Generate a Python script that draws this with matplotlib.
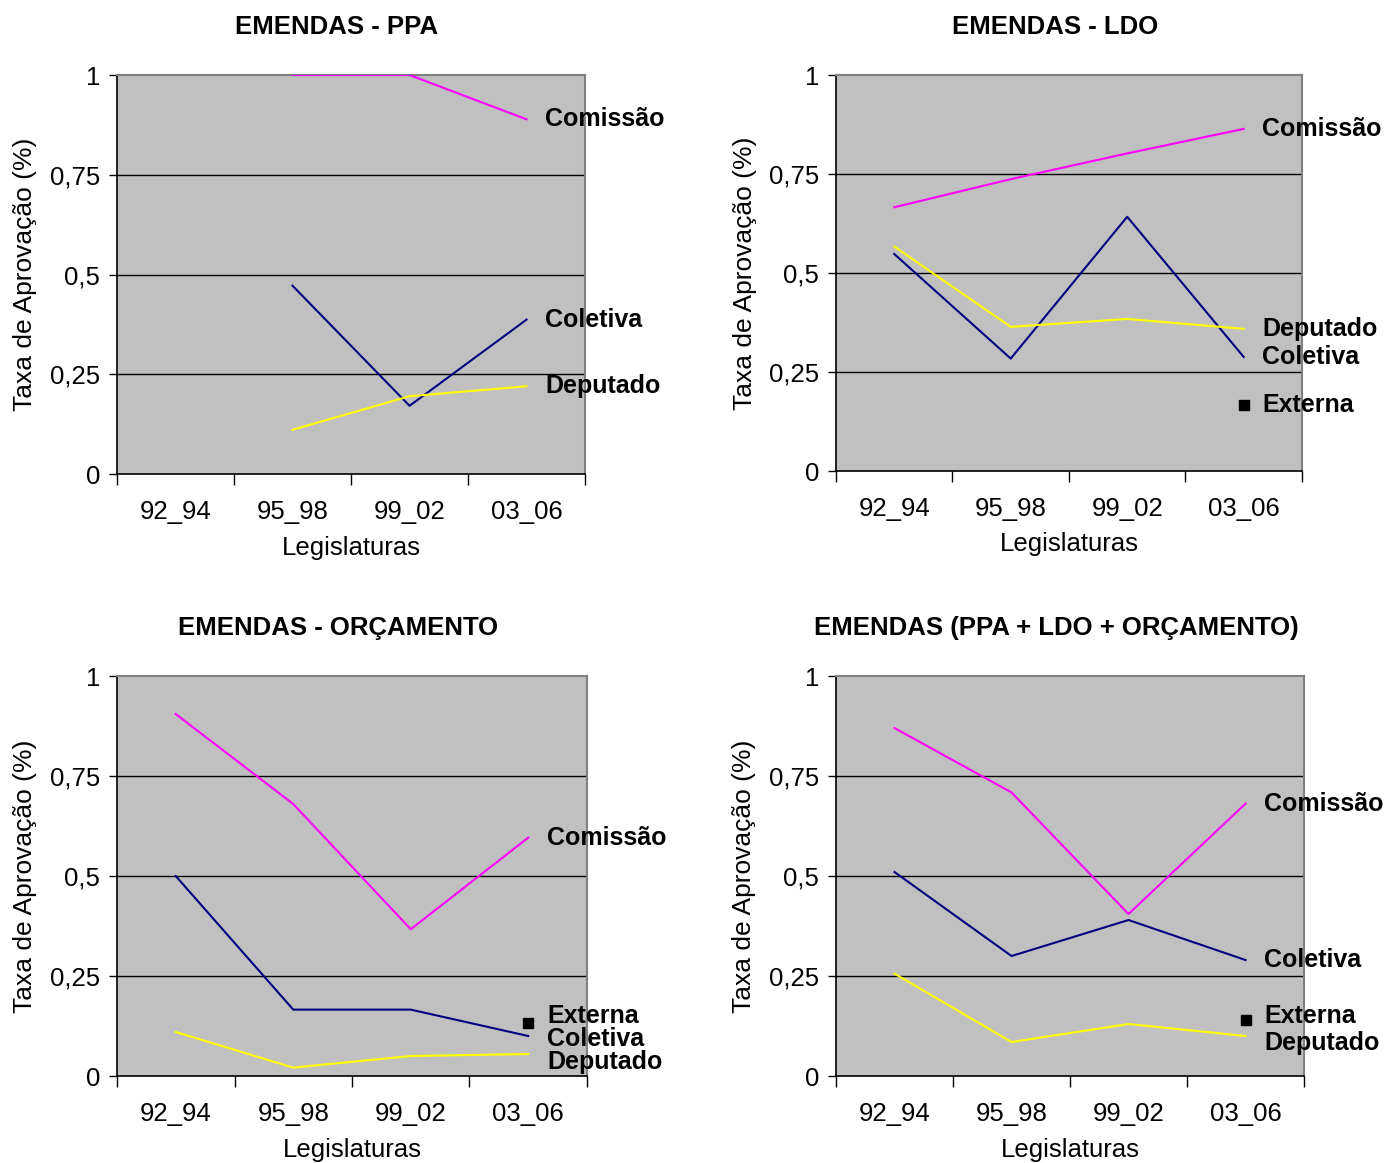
import numpy as np
import matplotlib.pyplot as plt

plt.rcParams['font.family'] = ['Liberation Sans', 'DejaVu Sans']

# categorias (legislaturas)
legislaturas = ['92_94', '95_98', '99_02', '03_06']
yticks = [0, 0.25, 0.5, 0.75, 1]
ytick_labels = ['0', '0,25', '0,5', '0,75', '1']

# EMENDAS - PPA
ppa_comissao = [np.nan, 1.0, 1.0, 0.889]
ppa_coletiva = [np.nan, 0.472, 0.171, 0.387]
ppa_deputado = [np.nan, 0.111, 0.195, 0.220]

# EMENDAS - LDO
ldo_comissao = [0.666, 0.737, 0.802, 0.864]
ldo_coletiva = [0.548, 0.284, 0.642, 0.288]
ldo_deputado = [0.567, 0.364, 0.384, 0.359]
ldo_externa = [np.nan, np.nan, np.nan, 0.167]

# EMENDAS - ORCAMENTO
orc_comissao = [0.905, 0.680, 0.367, 0.596]
orc_coletiva = [0.500, 0.166, 0.166, 0.100]
orc_deputado = [0.110, 0.021, 0.050, 0.055]
orc_externa = [np.nan, np.nan, np.nan, 0.132]

# EMENDAS (PPA + LDO + ORCAMENTO)
tot_comissao = [0.870, 0.709, 0.405, 0.681]
tot_coletiva = [0.510, 0.300, 0.390, 0.290]
tot_deputado = [0.256, 0.085, 0.130, 0.100]
tot_externa = [np.nan, np.nan, np.nan, 0.139]

colors = {'Comissão': '#FF00FF', 'Coletiva': '#000080', 'Deputado': '#FFFF00'}

panels = [
    ('EMENDAS - PPA', [0.0843, 0.5924, 0.3372, 0.3431],
     {'Comissão': ppa_comissao, 'Coletiva': ppa_coletiva, 'Deputado': ppa_deputado}, None, {}),
    ('EMENDAS - LDO', [0.6023, 0.5950, 0.3357, 0.3405],
     {'Comissão': ldo_comissao, 'Coletiva': ldo_coletiva, 'Deputado': ldo_deputado}, ldo_externa, {}),
    ('EMENDAS - ORÇAMENTO', [0.0843, 0.0748, 0.3386, 0.3439],
     {'Comissão': orc_comissao, 'Coletiva': orc_coletiva, 'Deputado': orc_deputado}, orc_externa,
     {'Externa': 5.5, 'Coletiva': -2.5, 'Deputado': -6}),
    ('EMENDAS (PPA + LDO + ORÇAMENTO)', [0.6023, 0.0748, 0.3372, 0.3439],
     {'Comissão': tot_comissao, 'Coletiva': tot_coletiva, 'Deputado': tot_deputado}, tot_externa,
     {'Externa': 3, 'Deputado': -5}),
]

fig = plt.figure(figsize=(13.88, 11.63), dpi=100)
x = np.arange(len(legislaturas))

for title, rect, series, externa, nudge in panels:
    ax = fig.add_axes(rect)
    ax.set_facecolor('#C0C0C0')
    for name, vals in series.items():
        ax.plot(x, vals, color=colors[name], lw=1.5, zorder=3)
    if externa is not None:
        ax.plot(x, externa, ls='none', marker='s', ms=7.5, color='black', zorder=4)

    # rotulos das series no ultimo ponto
    labels = dict(series)
    if externa is not None:
        labels['Externa'] = externa
    for name, vals in labels.items():
        ax.annotate(name, xy=(x[-1], vals[-1]), xytext=(13.5, nudge.get(name, 0)),
                    textcoords='offset points', ha='left', va='center',
                    fontsize=18, fontweight='bold', annotation_clip=False, zorder=5)

    ax.set_xlim(-0.5, len(legislaturas) - 0.5)
    ax.set_ylim(0, 1)
    ax.set_yticks(yticks)
    ax.set_yticklabels(ytick_labels, fontsize=18.5)
    for yv in yticks[1:-1]:
        ax.axhline(yv, color='black', lw=1, zorder=2)

    ax.set_xticks(np.arange(len(legislaturas) + 1) - 0.5)
    ax.set_xticklabels([])
    ax.set_xticks(x, minor=True)
    ax.set_xticklabels(legislaturas, minor=True, fontsize=18.5)
    ax.tick_params(axis='x', which='major', direction='out', length=8, width=1)
    ax.tick_params(axis='x', which='minor', length=0, pad=19)
    ax.tick_params(axis='y', direction='out', length=6, width=1, pad=6)

    ax.spines['top'].set_color('#808080')
    ax.spines['right'].set_color('#808080')
    ax.spines['top'].set_linewidth(1.5)
    ax.spines['right'].set_linewidth(1.5)
    ax.spines['left'].set_linewidth(1.2)
    ax.spines['bottom'].set_linewidth(1.2)

    ax.set_ylabel('Taxa de Aprovação (%)', fontsize=19)
    ax.yaxis.set_label_coords(-0.17, 0.5)
    ax.set_xlabel('Legislaturas', fontsize=18.5)
    ax.xaxis.set_label_coords(0.5, -0.155)

    ax.text(0.47, 1.12, title, transform=ax.transAxes, ha='center', va='center',
            fontsize=18.5, fontweight='bold')

fig.savefig('out.png', dpi=100)
